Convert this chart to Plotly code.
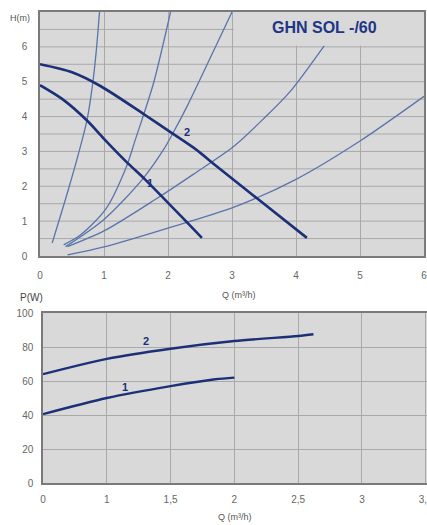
import plotly.graph_objects as go

# ---------------- data: upper chart H(m) vs Q(m3/h) ----------------
pump1_q = [0, 0.35, 0.75, 1.0, 1.35, 1.64, 2.2, 2.53]
pump1_h = [4.9, 4.5, 3.86, 3.36, 2.7, 2.2, 1.15, 0.52]
pump2_q = [0, 0.5, 0.95, 1.63, 2.05, 2.42, 2.73, 3.4, 4.17]
pump2_h = [5.5, 5.27, 4.87, 4.06, 3.54, 3.08, 2.62, 1.64, 0.52]

sysA_q = [0.19, 0.45, 0.66, 0.74, 0.82, 0.88, 0.93]
sysA_h = [0.37, 1.95, 3.34, 3.95, 4.9, 5.9, 7.0]
sysB_q = [0.37, 0.63, 1.03, 1.35, 1.49, 1.62, 1.78, 2.04]
sysB_h = [0.32, 0.6, 1.35, 2.56, 3.34, 4.06, 5.0, 7.0]
sysC_q = [0.4, 1.0, 1.6, 1.93, 2.07, 2.3, 2.6, 3.0]
sysC_h = [0.27, 1.05, 2.2, 3.05, 3.5, 4.3, 5.45, 7.0]
sysD_q = [0.43, 1.0, 1.8, 2.4, 3.03, 3.5, 3.9, 4.44]
sysD_h = [0.27, 0.72, 1.62, 2.35, 3.15, 3.95, 4.7, 6.03]
sysE_q = [0.43, 1.0, 2.0, 3.03, 4.0, 5.0, 6.0]
sysE_h = [0.03, 0.26, 0.8, 1.4, 2.2, 3.3, 4.58]

top_xticks = [0, 1, 2, 3, 4, 5, 6]
top_yticks = [0, 1, 2, 3, 4, 5, 6]

# ---------------- data: lower chart P(W) vs Q position ----------------
power1_x = [0, 0.5, 1.0, 1.35, 1.5]
power1_p = [40.5, 50, 57, 61, 62]
power2_x = [0, 0.5, 1.0, 1.5, 2.0, 2.12]
power2_p = [64, 73, 79, 83.5, 86.5, 87.5]

bot_xtickvals = [0, 0.5, 1.0, 1.5, 2.0, 2.5, 3.0]
bot_xticktext = ["0", "1", "1,5", "2", "2,5", "3", "3,5"]
bot_yticks = [0, 20, 40, 60, 80, 100]

title_text = "GHN SOL -/60"

# ---------------- styling ----------------
W, H = 427, 525
NAVY = "#1c3078"
THIN = "#5b74aa"
BG = "#d9d9d9"
GRID = "#a9a9a9"
BORDER = "#7a7a7a"
TICKC = "#666666"
FONT = "Liberation Sans, Arial, sans-serif"

fig = go.Figure()

for q, h in [(sysA_q, sysA_h), (sysB_q, sysB_h), (sysC_q, sysC_h),
             (sysD_q, sysD_h), (sysE_q, sysE_h)]:
    fig.add_trace(go.Scatter(x=q, y=h, mode="lines", xaxis="x", yaxis="y",
                             line=dict(color=THIN, width=1.3, shape="spline", smoothing=0.8),
                             hoverinfo="skip", showlegend=False))
for q, h in [(pump1_q, pump1_h), (pump2_q, pump2_h)]:
    fig.add_trace(go.Scatter(x=q, y=h, mode="lines", xaxis="x", yaxis="y",
                             line=dict(color=NAVY, width=2.6, shape="spline", smoothing=0.8),
                             hoverinfo="skip", showlegend=False))
for x, p in [(power1_x, power1_p), (power2_x, power2_p)]:
    fig.add_trace(go.Scatter(x=x, y=p, mode="lines", xaxis="x2", yaxis="y2",
                             line=dict(color=NAVY, width=2.4, shape="spline", smoothing=0.8),
                             hoverinfo="skip", showlegend=False))

def px_x(v):
    return v / W

def px_y(v):
    return 1 - v / H

tick_font = dict(family=FONT, size=10, color=TICKC)

fig.update_layout(
    width=W, height=H,
    margin=dict(l=0, r=0, t=0, b=0, autoexpand=False),
    paper_bgcolor="white",
    plot_bgcolor=BG,
    xaxis=dict(domain=[px_x(40), px_x(424)], range=[0, 6], tickvals=top_xticks,
               showgrid=True, gridcolor=GRID, gridwidth=1, zeroline=False,
               showline=True, linecolor=BORDER, linewidth=1.5, mirror=True,
               ticks="", ticklabelstandoff=9, tickfont=tick_font, automargin=False,
               ticklabeloverflow="allow", anchor="y"),
    yaxis=dict(domain=[px_y(256), px_y(12)], range=[0, 7], tickvals=top_yticks,
               showgrid=False, zeroline=False, automargin=False,
               showline=True, linecolor=BORDER, linewidth=1.5, mirror=True,
               ticks="", ticklabelstandoff=9, tickfont=tick_font, anchor="x"),
    xaxis2=dict(domain=[px_x(43), 1.0], range=[0, 3.01], tickvals=bot_xtickvals,
                ticktext=bot_xticktext, automargin=False,
                showgrid=True, gridcolor=GRID, gridwidth=1, zeroline=False,
                showline=True, linecolor=BORDER, linewidth=1.5, mirror=True,
                ticks="", ticklabelstandoff=6, tickfont=tick_font,
                ticklabeloverflow="allow", anchor="y2"),
    yaxis2=dict(domain=[px_y(483), px_y(313)], range=[0, 100], tickvals=bot_yticks,
                showgrid=True, gridcolor=GRID, gridwidth=1, zeroline=False,
                showline=True, linecolor=BORDER, linewidth=1.5, mirror=True, automargin=False,
                ticks="", ticklabelstandoff=6, tickfont=tick_font, anchor="x2"),
)

# half-metre horizontal grid on the upper chart
shapes = []
for i in range(1, 14):
    shapes.append(dict(type="line", xref="x", yref="y", x0=0, x1=6, y0=i * 0.5, y1=i * 0.5,
                       line=dict(color=GRID, width=1), layer="between"))
# title box hiding the grid in the top-right corner
shapes.append(dict(type="rect", xref="x", yref="y", x0=3.03, x1=6, y0=6.03, y1=7,
                   fillcolor=BG, line=dict(width=0), layer="between"))
fig.update_layout(shapes=shapes)

ann = []
ann.append(dict(text=f"<b>{title_text}</b>", xref="x", yref="y", x=4.45, y=6.55,
                showarrow=False, font=dict(family=FONT, size=16, color="#1f3585")))
ann.append(dict(text="<b>1</b>", xref="x", yref="y", x=1.72, y=2.1, showarrow=False,
                font=dict(family=FONT, size=11, color=NAVY)))
ann.append(dict(text="<b>2</b>", xref="x", yref="y", x=2.3, y=3.57, showarrow=False,
                font=dict(family=FONT, size=11, color=NAVY)))
ann.append(dict(text="<b>1</b>", xref="x2", yref="y2", x=0.64, y=56.5, showarrow=False,
                font=dict(family=FONT, size=11, color=NAVY)))
ann.append(dict(text="<b>2</b>", xref="x2", yref="y2", x=0.81, y=83.5, showarrow=False,
                font=dict(family=FONT, size=11, color=NAVY)))
ann.append(dict(text="H(m)", xref="paper", yref="paper", x=px_x(20), y=px_y(18),
                xanchor="center", yanchor="middle",
                showarrow=False, font=dict(family=FONT, size=9, color="#555555")))
ann.append(dict(text="Q (m³/h)", xref="paper", yref="paper", x=px_x(239), y=px_y(295),
                xanchor="center", yanchor="middle",
                showarrow=False, font=dict(family=FONT, size=9, color="#555555")))
ann.append(dict(text="P(W)", xref="paper", yref="paper", x=px_x(31), y=px_y(297),
                xanchor="center", yanchor="middle",
                showarrow=False, font=dict(family=FONT, size=10, color="#444444")))
ann.append(dict(text="Q (m³/h)", xref="paper", yref="paper", x=px_x(235), y=px_y(517),
                xanchor="center", yanchor="middle",
                showarrow=False, font=dict(family=FONT, size=9, color="#555555")))
fig.update_layout(annotations=ann)

fig.write_html("out.html", config={"displayModeBar": False},
               post_script="document.body.style.margin='0';document.body.style.overflow='hidden';")
